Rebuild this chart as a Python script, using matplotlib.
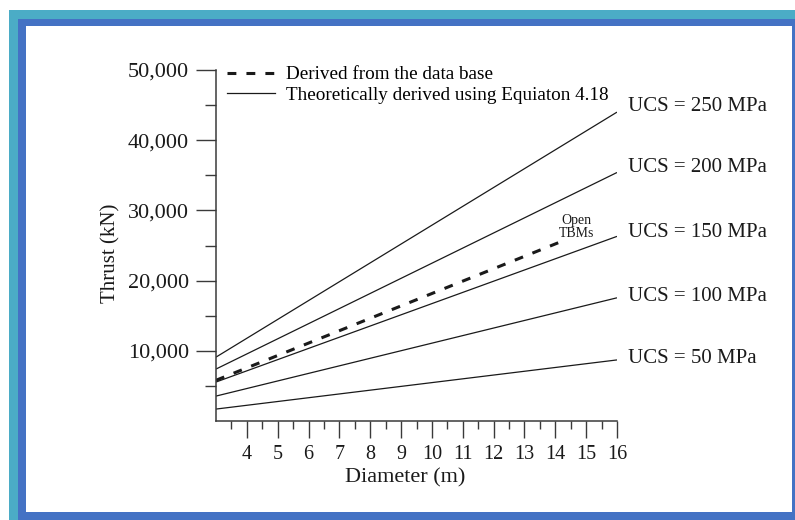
import matplotlib
matplotlib.use("Agg")
import matplotlib.pyplot as plt
from matplotlib.patches import Rectangle
from matplotlib.lines import Line2D
from matplotlib.ticker import FixedLocator, FixedFormatter

plt.rcParams['font.family'] = ['Liberation Serif', 'DejaVu Serif']

# ---------------- data ----------------
diam_range = [3, 16]
ucs_labels = ["UCS = 50 MPa", "UCS = 100 MPa", "UCS = 150 MPa",
              "UCS = 200 MPa", "UCS = 250 MPa"]
thrust_start = [1700, 3550, 5550, 7400, 9100]
thrust_end = [8700, 17550, 26300, 35400, 44000]

db_diam = [3, 14.1]
db_thrust = [5800, 25400]

x_major = [4, 5, 6, 7, 8, 9, 10, 11, 12, 13, 14, 15, 16]
x_major_labels = ["4", "5", "6", "7", "8", "9", "10", "11", "12", "13", "14", "15", "16"]
x_minor = [3.5, 4.5, 5.5, 6.5, 7.5, 8.5, 9.5, 10.5, 11.5, 12.5, 13.5, 14.5, 15.5]
y_major = [10000, 20000, 30000, 40000, 50000]
y_major_labels = ["10,000", "20,000", "30,000", "40,000", "50,000"]
y_minor = [5000, 15000, 25000, 35000, 45000]

legend_labels = ["Derived from the data base",
                 "Theoretically derived using Equiaton 4.18"]
open_tbm_label = "Open\nTBMs"

# label vertical offsets (points) for the UCS annotations (layout only)
ucs_label_dy = [0.7, 0.7, 2.9, 3.6, 4.3]

# ---------------- figure & frame ----------------
W, H = 795, 520
fig = plt.figure(figsize=(W / 100, H / 100), dpi=100)
fig.patch.set_facecolor("white")


def rect(x0, y0, x1, y1, color):
    fig.patches.append(Rectangle((x0 / W, 1 - y1 / H), (x1 - x0) / W, (y1 - y0) / H,
                                 transform=fig.transFigure, facecolor=color,
                                 edgecolor="none", zorder=-10))


rect(9, 10, 795, 520, "#4BACC6")
rect(18, 19, 795, 520, "#4472C4")
rect(26, 26, 792, 512, "white")

ax = fig.add_axes([216 / W, 1 - 421 / H, (617 - 216) / W, (421 - 70) / H])
ax.set_facecolor("none")

ink = "#1a1a1a"
axis_ink = "#3a3a3a"

# theoretical lines
for s, e, lab, dy in zip(thrust_start, thrust_end, ucs_labels, ucs_label_dy):
    ax.plot(diam_range, [s, e], color=ink, lw=0.9, solid_capstyle="butt")
    ax.annotate(lab, xy=(diam_range[1], e), xytext=(8, dy), textcoords="offset points",
                ha="left", va="center", fontsize=15, color=ink, annotation_clip=False)

# data-base line
ax.plot(db_diam, db_thrust, color=ink, lw=2.2, linestyle=(0, (2.9, 3.3)))

ax.text(14.7, 27700, open_tbm_label, ha="center", va="center", fontsize=10,
        color=ink, linespacing=1.0)

ax.set_xlim(diam_range)
ax.set_ylim(0, 50000)

for sp in ["top", "right"]:
    ax.spines[sp].set_visible(False)
for sp in ["left", "bottom"]:
    ax.spines[sp].set_color(axis_ink)
    ax.spines[sp].set_linewidth(1.1)

ax.xaxis.set_major_locator(FixedLocator(x_major))
ax.xaxis.set_major_formatter(FixedFormatter(x_major_labels))
ax.xaxis.set_minor_locator(FixedLocator(x_minor))
ax.yaxis.set_major_locator(FixedLocator(y_major))
ax.yaxis.set_major_formatter(FixedFormatter(y_major_labels))
ax.yaxis.set_minor_locator(FixedLocator(y_minor))

ax.tick_params(axis="x", which="major", length=12, width=1.0, color=axis_ink,
               labelsize=14.5, labelcolor=ink, pad=5)
ax.tick_params(axis="x", which="minor", length=5.5, width=1.0, color=axis_ink)
ax.tick_params(axis="y", which="major", length=14.5, width=1.0, color=axis_ink,
               labelsize=16, labelcolor=ink, pad=5)
ax.tick_params(axis="y", which="minor", length=8, width=1.0, color=axis_ink)

ax.set_xlabel("Diameter (m)", fontsize=16, color=ink)
ax.xaxis.set_label_coords((405 - 216) / 401, -(468 - 421) / 351)
ax.set_ylabel("Thrust (kN)", fontsize=15, color=ink)
ax.yaxis.set_label_coords(-(216 - 120) / 401, (421 - 253) / 351)

# legend
handles = [Line2D([], [], color=ink, lw=2.2, linestyle=(0, (2.9, 3.3))),
           Line2D([], [], color=ink, lw=0.9)]
ax.legend(handles, legend_labels, loc="upper left",
          bbox_to_anchor=((227 - 216) / 401, (421 - 66) / 351),
          frameon=False, fontsize=13.8, borderpad=0, borderaxespad=0,
          handlelength=2.5, handletextpad=0.6, labelspacing=0.17)

fig.savefig("out.png", dpi=100)
